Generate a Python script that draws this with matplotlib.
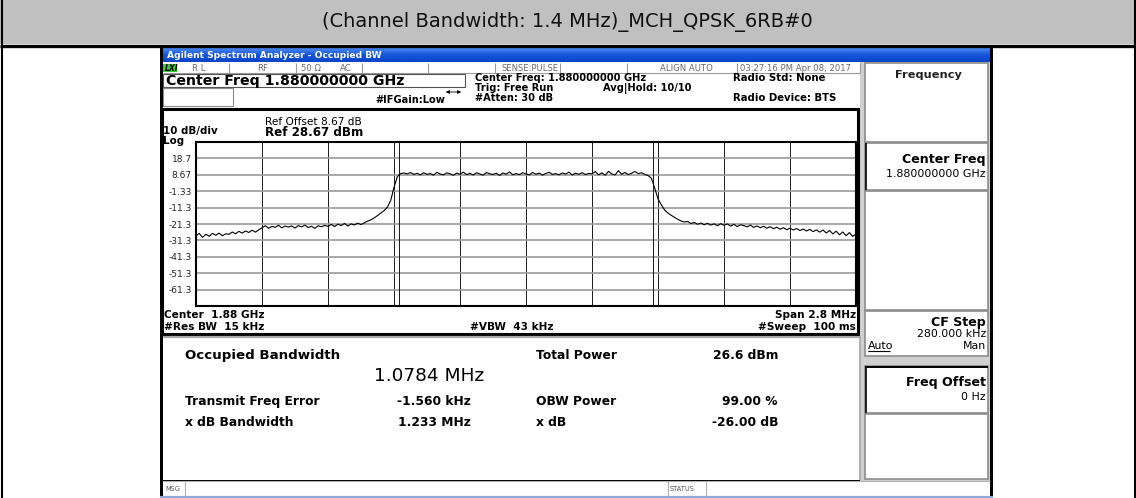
import numpy as np
import matplotlib.pyplot as plt
from matplotlib.patches import Rectangle
from matplotlib.colors import LinearSegmentedColormap

# ##############################################################################
# picture size (pixels) - everything on the background layer is in pixels
W, H = 1136, 498

# values
header_title = '(Channel Bandwidth: 1.4 MHz)_MCH_QPSK_6RB#0'
ref_level = 28.67          # dBm, top of graticule
db_per_div = 10
span_mhz = 2.8
ytick_labels = ['18.7', '8.67', '-1.33', '-11.3', '-21.3',
                '-31.3', '-41.3', '-51.3', '-61.3']
obw_markers = [-0.54, 0.54]   # MHz, occupied bandwidth edges

# trace (dBm), 201 sweep points from -1.4 MHz to +1.4 MHz
trace_dbm = [
    -28.4, -27.1, -29.5, -27.6, -28.8, -27.0, -28.2, -26.9, -28.5, -27.3,
    -27.6, -26.2, -27.3, -25.8, -26.9, -25.6, -26.5, -25.1, -26.3, -24.9,
    -23.6, -22.4, -23.9, -22.8, -23.4, -22.1, -23.7, -22.6, -23.2, -22.5,
    -23.8, -22.3, -23.1, -22.0, -23.5, -22.7, -24.0, -22.4, -23.0, -22.2,
    -22.8, -21.6, -22.9, -21.4, -22.3, -21.0, -22.6, -21.3, -21.9, -20.8,
    -21.7, -20.6, -19.6, -18.8, -17.6, -16.2, -14.6, -13.2, -11.0, -7.0,
    1.0, 7.5, 9.4, 9.8, 9.2, 10.1, 8.9, 9.6, 8.6, 9.9,
    9.0, 9.4, 8.5, 10.2, 9.1, 8.7, 9.8, 9.3, 8.4, 9.7,
    9.0, 10.3, 8.8, 9.5, 8.6, 9.9, 9.2, 8.5, 10.0, 9.3,
    8.9, 9.6, 8.3, 9.8, 9.1, 10.4, 8.7, 9.4, 8.8, 9.9,
    9.2, 8.6, 10.1, 9.0, 9.7, 8.5, 9.5, 10.2, 8.9, 9.4,
    8.7, 9.8, 9.1, 10.3, 8.6, 9.6, 9.0, 10.0, 8.8, 9.5,
    9.3, 10.6, 8.7, 9.9, 8.4, 10.8, 9.2, 8.6, 11.2, 9.0,
    10.1, 8.8, 9.6, 10.7, 9.4, 9.9, 8.9, 8.2, 6.6, 0.6,
    -6.0, -9.6, -12.8, -14.6, -16.0, -17.3, -18.4, -19.5, -20.1, -19.8,
    -21.0, -20.4, -21.5, -20.7, -21.8, -20.9, -22.0, -21.2, -22.4, -21.1,
    -22.1, -21.3, -22.6, -21.5, -22.9, -21.8, -22.3, -23.1, -22.0, -23.4,
    -22.5, -23.6, -22.7, -23.9, -23.0, -24.2, -23.3, -24.5, -23.6, -24.8,
    -23.9, -25.0, -24.1, -25.3, -24.4, -25.6, -24.6, -26.0, -24.9, -26.3,
    -25.0, -26.8, -25.3, -27.4, -25.7, -27.9, -26.2, -28.4, -26.6, -28.9,
    -27.3,
]

# measurement results
obw_value = '1.0784 MHz'
left_results = [('Transmit Freq Error', '-1.560 kHz'),
                ('x dB Bandwidth', '1.233 MHz')]
right_results = [('Total Power', '26.6 dBm'),
                 ('OBW Power', '99.00 %'),
                 ('x dB', '-26.00 dB')]

# ##############################################################################
fig = plt.figure(figsize=(W / 100, H / 100), dpi=100)
ax = fig.add_axes([0, 0, 1, 1])
ax.axis('off')


def box(x0, y0, x1, y1, fc='white', ec='none', lw=1.0, z=1):
    ax.add_patch(Rectangle((x0, y0), x1 - x0, y1 - y0, facecolor=fc,
                           edgecolor=ec, linewidth=lw, zorder=z))


def hline(y, x0, x1, color='black', lw=1.0, z=3):
    ax.plot([x0, x1], [y, y], color=color, lw=lw, zorder=z,
            solid_capstyle='butt')


def vline(x, y0, y1, color='black', lw=1.0, z=3):
    ax.plot([x, x], [y0, y1], color=color, lw=lw, zorder=z,
            solid_capstyle='butt')


def txt(x, y, s, size=7.1, weight='bold', ha='left', color='black', **kw):
    ax.text(x, y, s, fontsize=size, fontweight=weight, ha=ha, va='center',
            color=color, zorder=6, **kw)


# document table header ########################################################
box(0, 0, W, 44, fc='#c0c0c0')
hline(45.5, 0, W, lw=2.4)
vline(1.5, 0, H, lw=1.5)
vline(W - 1.5, 0, H, lw=1.5)
txt(567, 22, header_title, size=14, weight='normal', ha='center',
    color='#111111')

# analyzer screenshot frame ####################################################
box(160, 47, 993, H, fc='black', z=1)
box(163, 62, 990, 480, fc='white', z=1)

# title bar
blue = LinearSegmentedColormap.from_list('xp', ['#4a86ee', '#1554da', '#0a45c8'])
ax.imshow(np.linspace(0, 1, 24).reshape(-1, 1), cmap=blue, aspect='auto',
          extent=(163, 990, 62, 48), interpolation='bilinear', zorder=2)
txt(167, 55, 'Agilent Spectrum Analyzer - Occupied BW', size=6.6,
    color='white')

# status row
hline(73, 163, 860, color='#9a9a9a', lw=0.8)
for sx in [229, 296, 362, 428, 495, 560, 627, 737, 860]:
    vline(sx, 63, 73, color='#9a9a9a', lw=0.8)
box(163, 63.5, 177, 72, fc='#2fcf2f', z=3)
txt(165, 68, 'LXI', size=5.5, style='italic')
srow = [(199, 'R L'), (263, 'RF'), (311, '50 Ω'), (346, 'AC'),
        (530, 'SENSE:PULSE'), (686, 'ALIGN AUTO'),
        (796, '03:27:16 PM Apr 08, 2017')]
for sx, s in srow:
    txt(sx, 68, s, size=6.1, weight='normal', ha='center', color='#6a6a6a')

# measurement setup info
box(163, 73.5, 465, 87, ec='#555555', lw=0.8, z=3)
txt(166, 80.5, 'Center Freq 1.880000000 GHz', size=10.2)
box(163, 88, 233, 106, ec='#8a8a8a', lw=0.8, z=3)
txt(375, 100, '#IFGain:Low', size=7.1)
ax.annotate('', xy=(464, 92), xytext=(443, 92), zorder=6,
            arrowprops=dict(arrowstyle='<|-|>', color='black', lw=0.6,
                            mutation_scale=5))
txt(475, 78, 'Center Freq: 1.880000000 GHz')
txt(475, 88, 'Trig: Free Run')
txt(603, 88, 'Avg|Hold: 10/10')
txt(475, 98, '#Atten: 30 dB')
txt(733, 78, 'Radio Std: None', size=7.3)
txt(733, 98, 'Radio Device: BTS', size=7.3)

# graph frame
box(161.5, 108.5, 858, 334, fc='white', ec='black', lw=2.2, z=2)
txt(265, 121.5, 'Ref Offset 8.67 dB', size=7.6, weight='normal')
txt(163, 130.5, '10 dB/div', size=7.4)
txt(265, 132, 'Ref 28.67 dBm', size=8.6)
txt(163, 140.5, 'Log', size=7.4)
txt(164, 315, 'Center  1.88 GHz', size=7.6)
txt(164, 327, '#Res BW  15 kHz', size=7.6)
txt(470, 327, '#VBW  43 kHz', size=7.6)
txt(856, 315, 'Span 2.8 MHz', size=7.6, ha='right')
txt(856, 327, '#Sweep  100 ms', size=7.6, ha='right')

# results area
hline(336.5, 163, 860, color='#a8a8a8', lw=1.6)
vline(860, 336, 480, color='#a8a8a8', lw=1.2)
txt(185, 355, 'Occupied Bandwidth', size=9.6)
txt(484, 376, obw_value, size=13.3, weight='normal', ha='right')
for k, (lab, val) in enumerate(left_results):
    yy = 401 + 21 * k
    txt(185, yy, lab, size=8.8)
    txt(471, yy, val, size=8.8, ha='right')
for k, (lab, val) in enumerate(right_results):
    yy = [355, 401, 422][k]
    txt(536, yy, lab, size=8.8)
    txt(778, yy, val, size=8.8, ha='right')

# bottom status bar
box(163, 481, 990, 496, fc='white', z=2)
hline(481, 163, 990, color='#b0b0b0', lw=0.8)
hline(497, 160, 993, color='#8fa8d8', lw=1.6)
vline(185, 481, 496, color='#b0b0b0', lw=0.8)
vline(668, 481, 496, color='#b0b0b0', lw=0.8)
vline(706, 481, 496, color='#b0b0b0', lw=0.8)
txt(165, 488.5, 'MSG', size=4.8, weight='normal', color='#555555')
txt(670, 488.5, 'STATUS', size=4.8, weight='normal', color='#555555')

# softkey panel
box(860, 62, 990, 481, fc='#d0d0d0', z=1)
keys = [(63, 142), (143, 190), (191, 310), (311, 356), (366, 413), (414, 479)]
for y0, y1 in keys:
    box(865, y0, 988, y1, fc='white', ec='#8c8c8c', lw=1.2, z=2)
vline(865.5, 143, 190, lw=1.2)
vline(865.5, 366, 413, lw=1.2)
hline(366.5, 865, 988, lw=1.4)
txt(928, 75, 'Frequency', size=8.2, ha='center', color='#222222')
txt(986, 159, 'Center Freq', size=9.1, ha='right')
txt(986, 174, '1.880000000 GHz', size=7.9, weight='normal', ha='right')
txt(986, 322, 'CF Step', size=9.1, ha='right')
txt(986, 334, '280.000 kHz', size=7.9, weight='normal', ha='right')
txt(868, 346, 'Auto', size=7.9, weight='normal')
hline(351, 868, 890, lw=0.8)
txt(986, 346, 'Man', size=7.9, weight='normal', ha='right')
txt(986, 382, 'Freq Offset', size=9.1, ha='right')
txt(986, 397, '0 Hz', size=7.9, weight='normal', ha='right')

ax.set_xlim(0, W)
ax.set_ylim(H, 0)

# graticule with the trace #####################################################
gx = fig.add_axes([196 / W, 1 - 306 / H, 660 / W, 164 / H])
gx.set_zorder(5)
freq_mhz = np.linspace(-span_mhz / 2, span_mhz / 2, len(trace_dbm))
bottom = ref_level - 10 * db_per_div
gx.set_xlim(-span_mhz / 2, span_mhz / 2)
gx.set_ylim(bottom, ref_level)

ylev = [ref_level - db_per_div * (k + 1) for k in range(len(ytick_labels))]
gx.set_yticks(ylev)
gx.set_yticklabels(ytick_labels, fontsize=6.5, color='#222222')
gx.set_xticks([-span_mhz / 2 + span_mhz / 10 * k for k in range(1, 10)])
gx.set_xticklabels([])
gx.tick_params(length=0, pad=3)
gx.grid(axis='y', color='#9a9a9a', lw=1.2)
gx.grid(axis='x', color='#1a1a1a', lw=0.7)
for m in obw_markers:
    gx.axvline(m, color='#1a1a1a', lw=0.7)
gx.plot(freq_mhz, trace_dbm, color='black', lw=0.8)
for sp in gx.spines.values():
    sp.set_linewidth(1.5)
    sp.set_color('black')

plt.savefig('out.png', dpi=100)
